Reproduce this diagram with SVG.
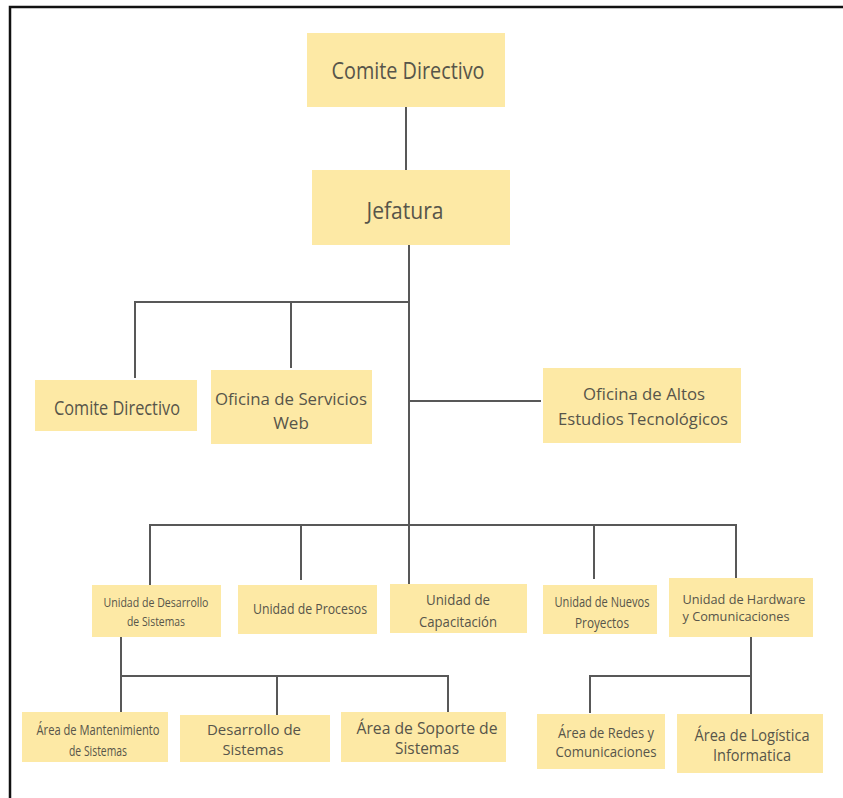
<svg xmlns="http://www.w3.org/2000/svg" width="843" height="798" viewBox="0 0 843 798">
  <style>
    .box { fill: #fde9a5; }
    .lbl { font-family: "Open Sans", "Noto Sans", "DejaVu Sans", sans-serif; font-weight: 500; fill: #57554a; text-anchor: middle; }
    .wire { stroke: #585858; stroke-width: 2; fill: none; }
  </style>
  <rect width="843" height="798" fill="#ffffff"/>
  <!-- page frame: top and left edges only -->
  <path d="M10,798 V7 H843" fill="none" stroke="#111" stroke-width="2.5"/>

  <g id="connectors" class="wire">
    <path d="M406,107 V170"/>
    <path d="M409,245 V587"/>
    <path d="M135,378 V302 H409"/>
    <path d="M291,302 V368"/>
    <path d="M409,401 H541"/>
    <path d="M150,585 V525 H736 V578"/>
    <path d="M301,525 V580"/>
    <path d="M594,525 V579"/>
    <path d="M121,637 V712"/>
    <path d="M121,676 H448 V712"/>
    <path d="M277,676 V715"/>
    <path d="M751,637 V714"/>
    <path d="M590,713 V676 H751"/>
  </g>

  <g id="comite-directivo">
    <rect class="box" x="307" y="33" width="198" height="74"/>
    <text class="lbl" x="408" y="79" font-size="23" textLength="153" lengthAdjust="spacingAndGlyphs">Comite Directivo</text>
  </g>

  <g id="jefatura">
    <rect class="box" x="312" y="170" width="198" height="75"/>
    <text class="lbl" x="405" y="219" font-size="24" textLength="77" lengthAdjust="spacingAndGlyphs">Jefatura</text>
  </g>

  <g id="comite-directivo-2">
    <rect class="box" x="35" y="380" width="162" height="51"/>
    <text class="lbl" x="117" y="415" font-size="20" textLength="126" lengthAdjust="spacingAndGlyphs">Comite Directivo</text>
  </g>

  <g id="oficina-servicios-web">
    <rect class="box" x="211" y="370" width="161" height="74"/>
    <text class="lbl" x="291" y="405" font-size="17" textLength="152" lengthAdjust="spacingAndGlyphs">Oficina de Servicios</text>
    <text class="lbl" x="291" y="429" font-size="17">Web</text>
  </g>

  <g id="oficina-altos-estudios">
    <rect class="box" x="543" y="368" width="198" height="75"/>
    <text class="lbl" x="644" y="400" font-size="17" textLength="122" lengthAdjust="spacingAndGlyphs">Oficina de Altos</text>
    <text class="lbl" x="643" y="425" font-size="17" textLength="170" lengthAdjust="spacingAndGlyphs">Estudios Tecnológicos</text>
  </g>

  <g id="unidad-desarrollo">
    <rect class="box" x="92" y="585" width="129" height="52"/>
    <text class="lbl" x="156" y="607" font-size="13" textLength="105" lengthAdjust="spacingAndGlyphs">Unidad de Desarrollo</text>
    <text class="lbl" x="156" y="626" font-size="13" textLength="58" lengthAdjust="spacingAndGlyphs">de Sistemas</text>
  </g>

  <g id="unidad-procesos">
    <rect class="box" x="238" y="585" width="139" height="49"/>
    <text class="lbl" x="310" y="614" font-size="14" textLength="114" lengthAdjust="spacingAndGlyphs">Unidad de Procesos</text>
  </g>

  <g id="unidad-capacitacion">
    <rect class="box" x="390" y="584" width="137" height="49"/>
    <text class="lbl" x="458" y="605" font-size="15" textLength="64" lengthAdjust="spacingAndGlyphs">Unidad de</text>
    <text class="lbl" x="458" y="627" font-size="15" textLength="78" lengthAdjust="spacingAndGlyphs">Capacitación</text>
  </g>

  <g id="unidad-nuevos-proyectos">
    <rect class="box" x="543" y="585" width="114" height="49"/>
    <text class="lbl" x="602" y="607" font-size="14" textLength="95" lengthAdjust="spacingAndGlyphs">Unidad de Nuevos</text>
    <text class="lbl" x="602" y="628" font-size="14" textLength="54" lengthAdjust="spacingAndGlyphs">Proyectos</text>
  </g>

  <g id="unidad-hardware">
    <rect class="box" x="669" y="578" width="144" height="59"/>
    <text class="lbl" x="744" y="604" font-size="12" textLength="123" lengthAdjust="spacingAndGlyphs">Unidad de Hardware</text>
    <text class="lbl" x="736" y="621" font-size="12" textLength="107" lengthAdjust="spacingAndGlyphs">y Comunicaciones</text>
  </g>

  <g id="area-mantenimiento">
    <rect class="box" x="22" y="712" width="146" height="50"/>
    <text class="lbl" x="98" y="735" font-size="14" textLength="123" lengthAdjust="spacingAndGlyphs">Área de Mantenimiento</text>
    <text class="lbl" x="98" y="756" font-size="14" textLength="58" lengthAdjust="spacingAndGlyphs">de Sistemas</text>
  </g>

  <g id="desarrollo-sistemas">
    <rect class="box" x="180" y="715" width="150" height="47"/>
    <text class="lbl" x="254" y="735" font-size="15" textLength="94" lengthAdjust="spacingAndGlyphs">Desarrollo de</text>
    <text class="lbl" x="253" y="755" font-size="15" textLength="61" lengthAdjust="spacingAndGlyphs">Sistemas</text>
  </g>

  <g id="area-soporte">
    <rect class="box" x="341" y="712" width="165" height="50"/>
    <text class="lbl" x="427" y="734" font-size="16" textLength="141" lengthAdjust="spacingAndGlyphs">Área de Soporte de</text>
    <text class="lbl" x="427" y="754" font-size="16" textLength="64" lengthAdjust="spacingAndGlyphs">Sistemas</text>
  </g>

  <g id="area-redes">
    <rect class="box" x="537" y="714" width="128" height="55"/>
    <text class="lbl" x="606" y="738" font-size="14" textLength="96" lengthAdjust="spacingAndGlyphs">Área de Redes y</text>
    <text class="lbl" x="606" y="757" font-size="14" textLength="101" lengthAdjust="spacingAndGlyphs">Comunicaciones</text>
  </g>

  <g id="area-logistica">
    <rect class="box" x="677" y="714" width="146" height="59"/>
    <text class="lbl" x="752" y="741" font-size="16" textLength="115" lengthAdjust="spacingAndGlyphs">Área de Logística</text>
    <text class="lbl" x="752" y="761" font-size="16" textLength="78" lengthAdjust="spacingAndGlyphs">Informatica</text>
  </g>
</svg>
